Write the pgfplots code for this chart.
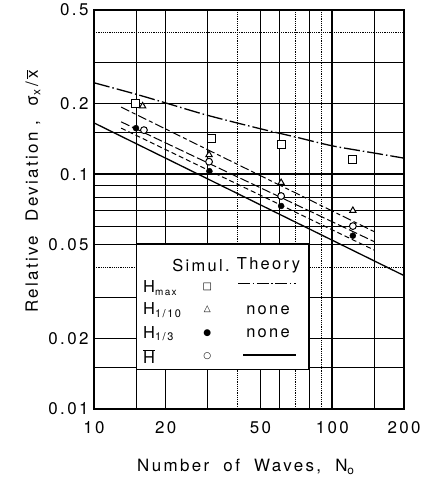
\documentclass[border=0pt]{standalone}
\usepackage{fontspec}
\setmainfont{TeX Gyre Heros}[LetterSpace=14]
\newfontfamily\symfont{DejaVu Sans}
\usepackage{pgfplots}
\pgfplotsset{compat=1.18}

\begin{document}
\begin{tikzpicture}
\begin{axis}[
  xmode=log, ymode=log,
  scale only axis, width=310bp, height=399bp,
  xmin=10, xmax=200, ymin=0.01, ymax=0.5,
  xtick={10,20,50,100,200}, xticklabels={10,20,50,100,200},
  ytick={0.01,0.02,0.05,0.1,0.2,0.5}, yticklabels={0.01,0.02,0.05,0.1,0.2,0.5},
  minor xtick={15,30,60,80,150},
  minor ytick={0.015,0.03,0.06,0.07,0.08,0.09,0.15,0.3},
  extra x ticks={40,70,90}, extra x tick labels={,,},
  extra y ticks={0.04,0.4}, extra y tick labels={,},
  extra tick style={grid=major, major grid style={black, line width=0.7bp, dash pattern=on 1.2bp off 1bp}},
  grid=both,
  major grid style={black, line width=0.8bp},
  minor grid style={black, line width=0.8bp},
  major tick length=0pt, minor tick length=0pt,
  axis line style={line width=1.3bp},
  tick label style={font=\fontsize{17}{19}\selectfont},
  xticklabel style={yshift=-9bp},
  yticklabel style={xshift=-2bp},
  xlabel={Number\ \ of\ \ Waves,\ \ N\textsubscript{o}},
  ylabel={Relative\ \ Deviation\ ,\ \ σ\textsubscript{x}\,/\,\(\overline{\mbox{x}}\)},
  label style={font=\fontsize{17}{19}\selectfont},
  xlabel style={at={(axis description cs:0.49,-0.145)}, anchor=center},
  ylabel style={at={(axis description cs:-0.197,0.545)}, anchor=center},
]
% heavier reference lines of the graph paper
\draw[line width=1.6bp] (axis cs:100,0.01) -- (axis cs:100,0.5);
\draw[line width=1.6bp] (axis cs:10,0.1) -- (axis cs:200,0.1);

% H_max theory
\addplot[black, line width=1.3bp, smooth, dash pattern=on 16bp off 3bp on 1.5bp off 3bp]
  coordinates {(10,0.245)(15,0.219)(20,0.201)(30,0.178)(50,0.156)(70,0.144)(100,0.132)(150,0.123)(200,0.117)};

% fitted trend lines
\addplot[black, line width=1bp, dash pattern=on 9bp off 3bp on 4bp off 3bp]
  coordinates {(13,0.193)(150,0.0569)};
\addplot[black, line width=1bp, dash pattern=on 9bp off 3bp]
  coordinates {(13,0.167)(150,0.0516)};
\addplot[black, line width=1bp, dash pattern=on 5bp off 3bp]
  coordinates {(13,0.157)(150,0.0475)};

% mean height theory
\addplot[black, line width=1.3bp] coordinates {(10,0.1653)(200,0.0370)};

% simulation results
\addplot[only marks, mark=square*, mark size=4bp, mark options={fill=white, draw=black, line width=1bp}]
  coordinates {(15,0.200)(31,0.142)(61,0.134)(122,0.115)};
\addplot[only marks, mark=*, mark size=3.4bp, mark options={fill=white, draw=black, line width=1bp}]
  coordinates {(16.2,0.154)(30.4,0.113)(61,0.0807)(122,0.0601)};
\addplot[only marks, mark=triangle*, mark size=3.6bp, mark options={fill=white, draw=black, line width=1bp}]
  coordinates {(16,0.195)(30.4,0.121)(61,0.092)(122,0.070)};
\addplot[only marks, mark=*, mark size=3bp, mark options={fill=black, draw=black}]
  coordinates {(15,0.157)(30.5,0.103)(61,0.0732)(122,0.0547)};
\end{axis}

% key
\begin{scope}[shift={(current axis.south west)}, x=1bp, y=1bp,
  every node/.style={font=\fontsize{16.5}{18}\selectfont, inner sep=0pt}]
\draw[fill=white, line width=1.3bp] (42.7,39.7) rectangle (214.3,165);
\node at (107,143.3) {Simul.};
\node at (174.5,143.3) {Theory};
\node[anchor=west] at (49,121) {H\textsubscript{\fontsize{10}{10}\selectfont max}};
\node[anchor=west] at (49,99) {H\textsubscript{\fontsize{11}{11}\selectfont 1/10}};
\node[anchor=west] at (49,75.5) {H\textsubscript{\fontsize{11}{11}\selectfont 1/3}};
\node[anchor=west] at (49,52) {\(\overline{\mbox{H}}\)};
\node at (113.3,122) {\symfont\fontsize{10}{10}\selectfont □};
\node at (113.3,100) {\symfont\fontsize{9}{9}\selectfont △};
\node at (113.3,76) {\symfont\fontsize{9}{9}\selectfont ●};
\node at (113.3,52.5) {\symfont\fontsize{9}{9}\selectfont ○};
\draw[line width=1.3bp, dash pattern=on 12bp off 2.5bp on 1.5bp off 2.5bp] (144.3,125.7) -- (202,125.7);
\node at (174,99) {none};
\node at (174,76) {none};
\draw[line width=1.3bp] (149.3,54) -- (202,54);
\end{scope}

\pgfresetboundingbox
\path (current axis.south west) ++(-94bp,-72bp) rectangle ++(421bp,481bp);
\end{tikzpicture}
\end{document}
